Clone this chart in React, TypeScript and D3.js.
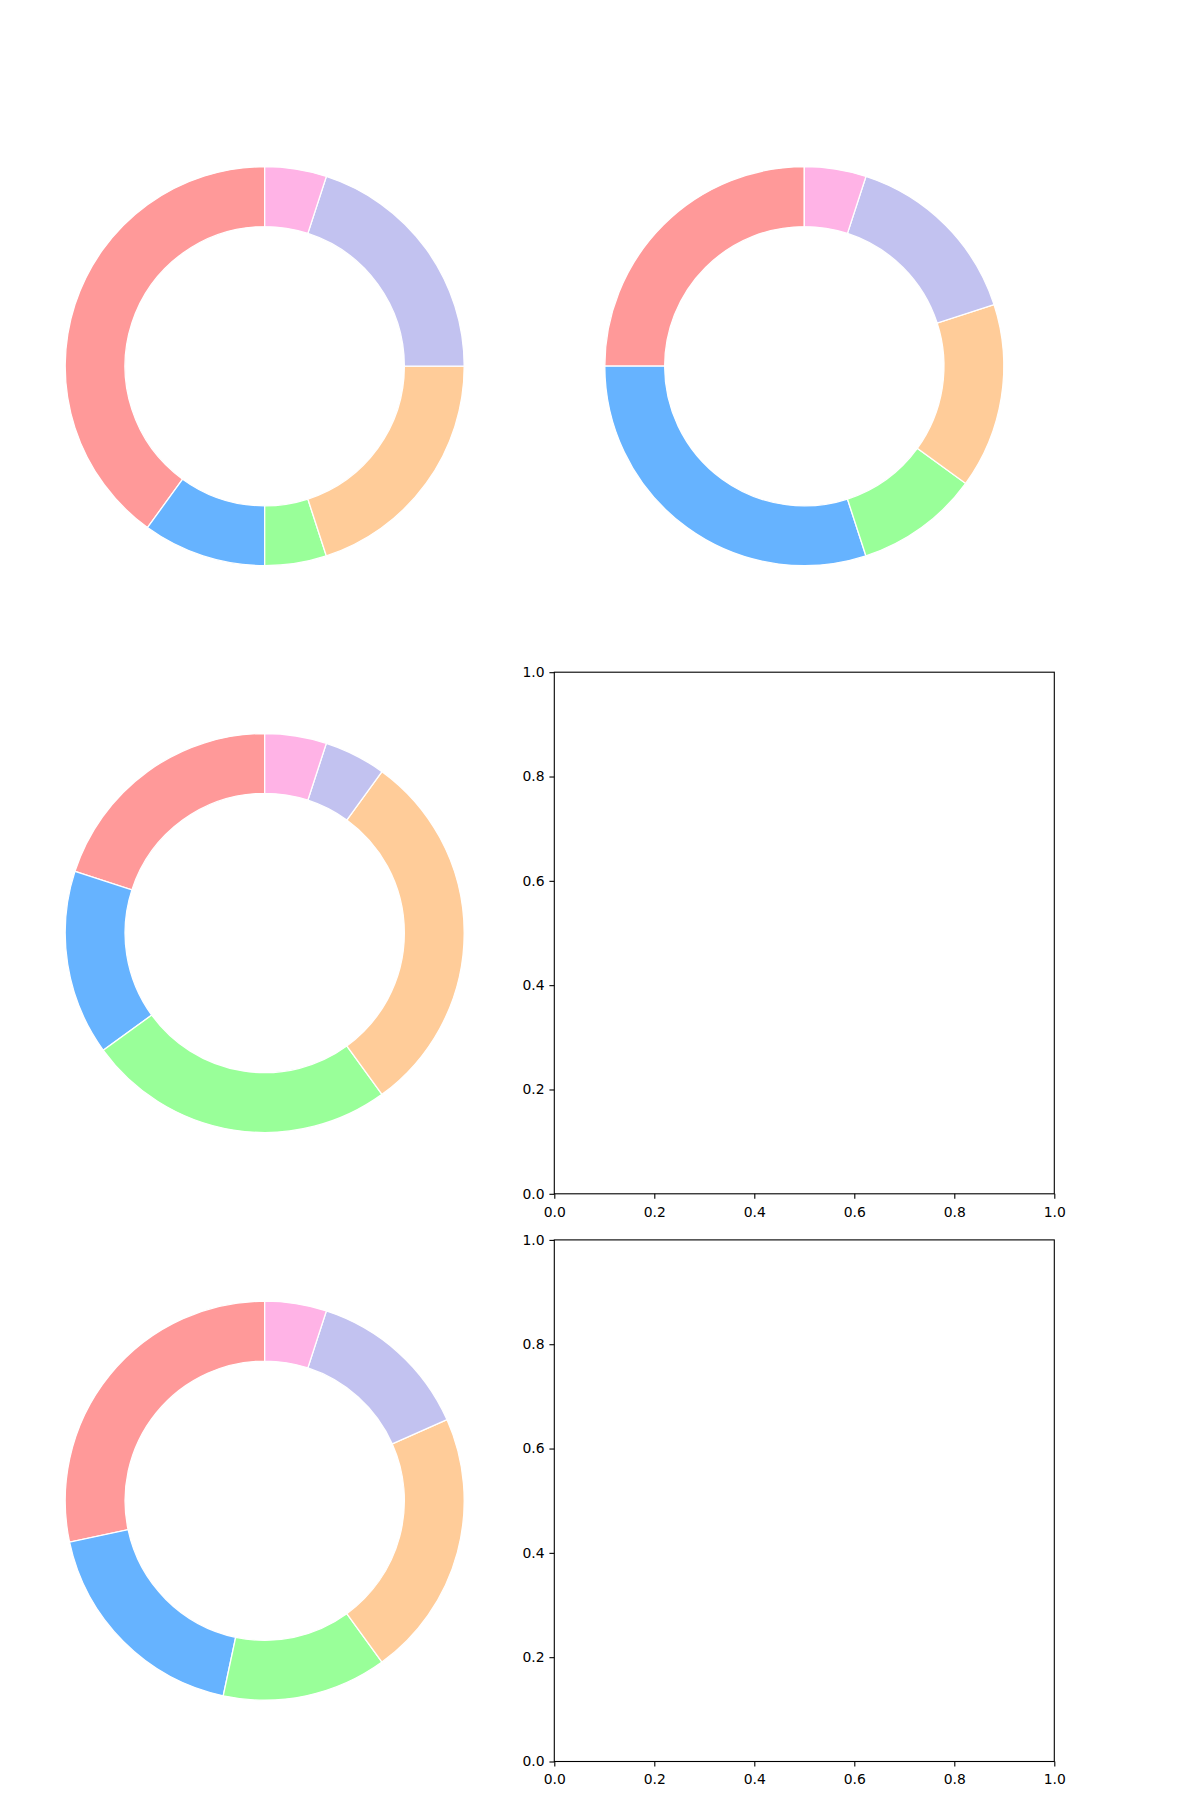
import * as d3 from 'd3';
import { useEffect, useRef } from 'react';

const colors = ['#ff9999', '#66b3ff', '#99ff99', '#ffcc99', '#c2c2f0', '#ffb3e6'];
const donutA = [40, 10, 5, 20, 20, 5];
const donutB = [25, 30, 10, 15, 15, 5];
const donutC = [20, 15, 25, 30, 5, 5];
const donutD = [85, 55, 40, 65, 40, 15];
const tickValues = [0, 0.2, 0.4, 0.6, 0.8, 1.0];

const WIDTH = 1200;
const HEIGHT = 1800;
const FONT = '"DejaVu Sans", sans-serif';

const App = () => {
  const svgRef = useRef<SVGSVGElement>(null);

  useEffect(() => {
    const svg = d3.select(svgRef.current);
    svg.selectAll('*').remove();

    // grid: rows 567.3 apart, axes boxes ~500 wide
    const rowCenters = [366.2, 933, 1500.7];
    const colCenters = [264.7, 804.3];
    const axW = 500;
    const axH = 521.6;

    // pie radius in px (1 data unit, axes limits +-1.25)
    const unit = 199.5;
    const rScale = d3.scaleLinear([0, 1], [0, unit]);

    const pie = d3
      .pie<number>()
      .sort(null)
      .value((d) => d)
      .startAngle(0)
      .endAngle(-2 * Math.PI);

    const arc = d3
      .arc<d3.PieArcDatum<number>>()
      .innerRadius(rScale(0.7))
      .outerRadius(rScale(1));

    const drawDonut = (values: number[], cx: number, cy: number) => {
      const g = svg.append('g').attr('transform', `translate(${cx},${cy})`);
      g.selectAll('path')
        .data(pie(values))
        .join('path')
        .attr('d', arc)
        .attr('fill', (_, i) => colors[i])
        .attr('stroke', '#ffffff')
        .attr('stroke-width', 1.3)
        .attr('stroke-linejoin', 'miter');
    };

    drawDonut(donutA, colCenters[0], rowCenters[0]);
    drawDonut(donutB, colCenters[1], rowCenters[0]);
    drawDonut(donutC, colCenters[0], rowCenters[1]);
    drawDonut(donutD, colCenters[0], rowCenters[2]);

    const drawEmptyAxes = (cx: number, cy: number) => {
      const x0 = cx - axW / 2;
      const y0 = cy - axH / 2;
      const x = d3.scaleLinear([0, 1], [x0, x0 + axW]);
      const y = d3.scaleLinear([0, 1], [y0 + axH, y0]);

      const styleAxis = (g) => {
        g.select('.domain').remove();
        g.selectAll('.tick line').attr('stroke', '#000').attr('stroke-width', 1.1);
        g.selectAll('.tick text')
          .attr('fill', '#000')
          .attr('font-size', 13.9)
          .attr('font-family', FONT);
      };

      svg
        .append('g')
        .attr('transform', `translate(0,${y0 + axH})`)
        .call(
          d3.axisBottom(x).tickValues(tickValues).tickFormat(d3.format('.1f'))
            .tickSize(4.9).tickPadding(8.2)
        )
        .call(styleAxis);

      svg
        .append('g')
        .attr('transform', `translate(${x0},0)`)
        .call(
          d3.axisLeft(y).tickValues(tickValues).tickFormat(d3.format('.1f'))
            .tickSize(4.9).tickPadding(4.9)
        )
        .call(styleAxis);

      svg
        .append('rect')
        .attr('x', x0)
        .attr('y', y0)
        .attr('width', axW)
        .attr('height', axH)
        .attr('fill', 'none')
        .attr('stroke', '#000')
        .attr('stroke-width', 1.1);
    };

    drawEmptyAxes(colCenters[1], rowCenters[1]);
    drawEmptyAxes(colCenters[1], rowCenters[2]);
  }, []);

  return (
    <svg
      ref={svgRef}
      width={WIDTH}
      height={HEIGHT}
      style={{ position: 'absolute', left: 0, top: 0, background: '#fff' }}
    />
  );
};

export default App;
